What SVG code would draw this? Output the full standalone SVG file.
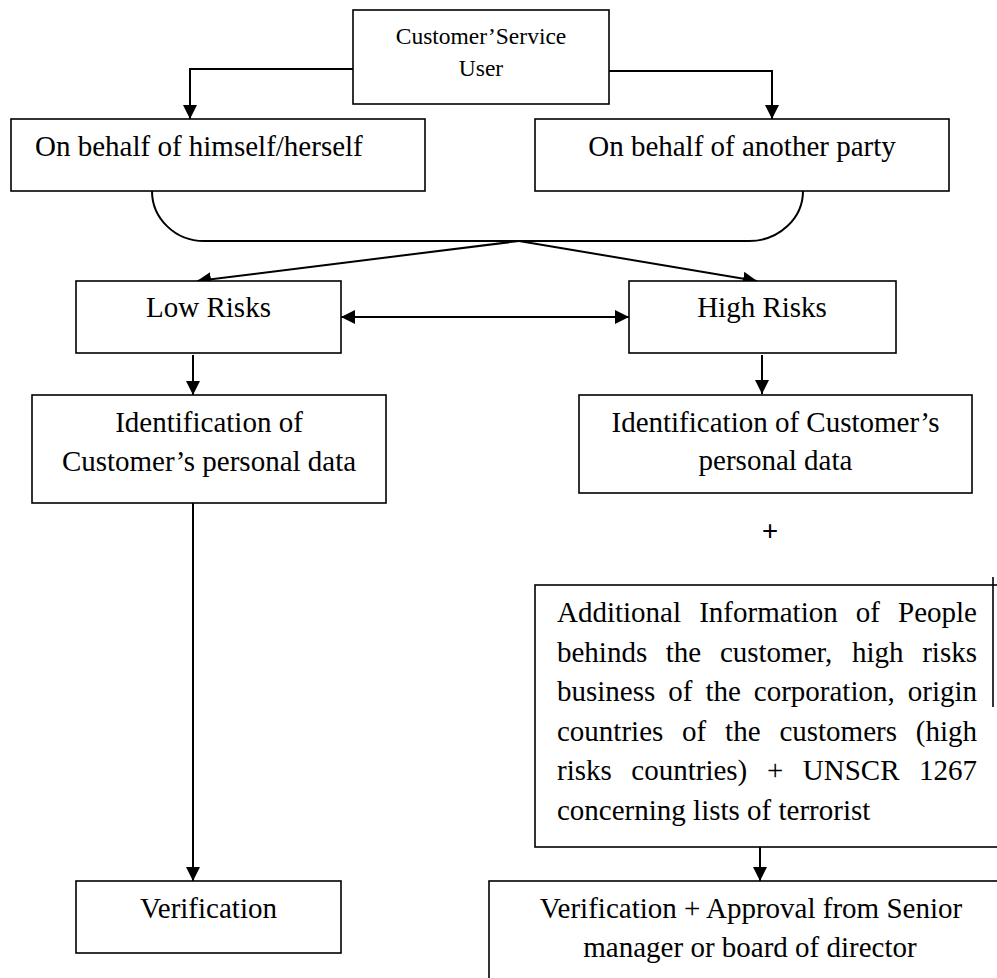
<svg xmlns="http://www.w3.org/2000/svg" width="997" height="978" viewBox="0 0 997 978">
<style>
.box{fill:#fff;stroke:#000;stroke-width:1.6}
.t{font-family:"Liberation Serif","Times New Roman",serif;font-size:29px;fill:#000}
.ts{font-family:"Liberation Serif","Times New Roman",serif;font-size:23.5px;fill:#000}
.c{text-anchor:middle}
.ln{fill:none;stroke:#000;stroke-width:2}
</style>
<defs>
<marker id="ah" viewBox="0 0 14 14" refX="14" refY="7" markerWidth="14" markerHeight="14" markerUnits="userSpaceOnUse" orient="auto-start-reverse">
<path d="M0,0 L14,7 L0,14 Z" fill="#000"/>
</marker>
</defs>
<rect width="997" height="978" fill="#fff"/>
<g id="connectors">
<polyline class="ln" points="353,69 190,69 190,119" marker-end="url(#ah)"/>
<polyline class="ln" points="609,71 772,71 772,119" marker-end="url(#ah)"/>
<path class="ln" stroke-width="1.6" d="M152,191 A52,50 0 0 0 204,241 L749,241 A54,50 0 0 0 803,191"/>
<line class="ln" x1="519" y1="241" x2="197" y2="281" marker-end="url(#ah)"/>
<line class="ln" x1="519" y1="241" x2="757" y2="281" marker-end="url(#ah)"/>
<line class="ln" stroke-width="2.5" x1="341" y1="317" x2="629" y2="317" marker-start="url(#ah)" marker-end="url(#ah)"/>
<line class="ln" x1="193" y1="355" x2="193" y2="395" marker-end="url(#ah)"/>
<line class="ln" x1="762" y1="355" x2="762" y2="394" marker-end="url(#ah)"/>
<line class="ln" x1="193" y1="503" x2="193" y2="881" marker-end="url(#ah)"/>
<line class="ln" x1="760" y1="843" x2="760" y2="881" marker-end="url(#ah)"/>
</g>
<g id="customer">
<rect class="box" x="353" y="10" width="256" height="94"/>
<text class="ts c" x="481" y="44">Customer’Service</text>
<text class="ts c" x="481" y="76">User</text>
</g>
<g id="himself">
<rect class="box" x="11" y="119" width="414" height="72"/>
<text class="t" x="35" y="156">On behalf of himself/herself</text>
</g>
<g id="another">
<rect class="box" x="535" y="119" width="414" height="72"/>
<text class="t c" x="742" y="156">On behalf of another party</text>
</g>
<g id="low">
<rect class="box" x="76" y="281" width="265" height="72"/>
<text class="t c" x="208.5" y="317">Low Risks</text>
</g>
<g id="high">
<rect class="box" x="629" y="281" width="267" height="72"/>
<text class="t c" x="762" y="317">High Risks</text>
</g>
<g id="id-low">
<rect class="box" x="32" y="395" width="354" height="108"/>
<text class="t c" x="209" y="432">Identification of</text>
<text class="t c" x="209" y="471">Customer’s personal data</text>
</g>
<g id="id-high">
<rect class="box" x="579" y="395" width="393" height="98"/>
<text class="t c" x="775.5" y="432">Identification of Customer’s</text>
<text class="t c" x="775.5" y="470">personal data</text>
</g>
<g id="plus">
<text class="t c" x="770" y="541" font-weight="bold">+</text>
</g>
<g id="additional">
<rect class="box" x="535" y="585" width="470" height="262"/>
<line x1="993" y1="577" x2="993" y2="707" stroke="#000" stroke-width="1.6"/>
<text class="t" y="622"><tspan x="557">Additional</tspan><tspan x="699.2">Information</tspan><tspan x="855.8">of</tspan><tspan x="977" text-anchor="end">People</tspan></text>
<text class="t" y="661.5"><tspan x="557">behinds</tspan><tspan x="665.8">the</tspan><tspan x="719.9">customer,</tspan><tspan x="852">high</tspan><tspan x="977" text-anchor="end">risks</tspan></text>
<text class="t" y="701"><tspan x="557">business</tspan><tspan x="668.3">of</tspan><tspan x="705.4">the</tspan><tspan x="753.8">corporation,</tspan><tspan x="977" text-anchor="end">origin</tspan></text>
<text class="t" y="740.5"><tspan x="557">countries</tspan><tspan x="682.1">of</tspan><tspan x="725.1">the</tspan><tspan x="779.4">customers</tspan><tspan x="977" text-anchor="end">(high</tspan></text>
<text class="t" y="780"><tspan x="557">risks</tspan><tspan x="631.3">countries)</tspan><tspan x="766.9">+</tspan><tspan x="802.8">UNSCR</tspan><tspan x="977" text-anchor="end">1267</tspan></text>
<text class="t" x="557" y="819.5">concerning lists of terrorist</text>
</g>
<g id="verification">
<rect class="box" x="76" y="881" width="265" height="72"/>
<text class="t c" x="208.5" y="918">Verification</text>
</g>
<g id="approval">
<rect class="box" x="489" y="881" width="520" height="110"/>
<text class="t c" x="751" y="918">Verification + Approval from Senior</text>
<text class="t c" x="750" y="957">manager or board of director</text>
</g>
</svg>
